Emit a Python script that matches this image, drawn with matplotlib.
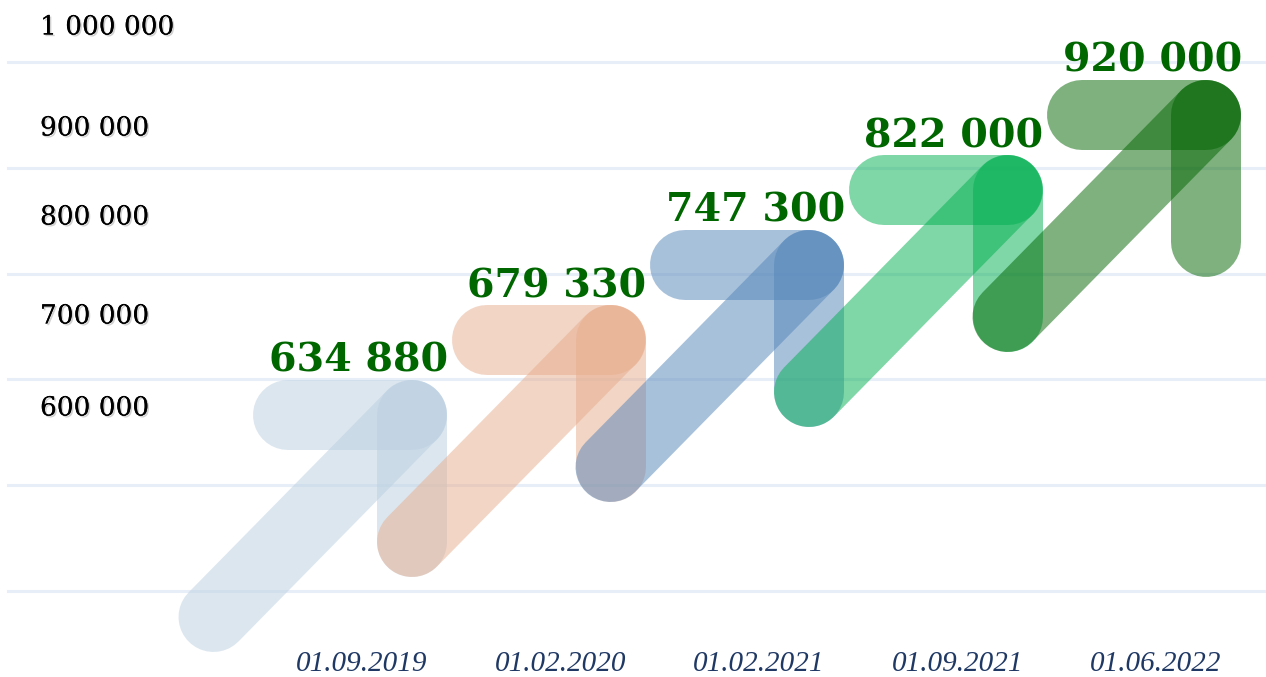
import matplotlib.pyplot as plt
import matplotlib.patheffects as pe

# данные
dates = ['01.09.2019', '01.02.2020', '01.02.2021', '01.09.2021', '01.06.2022']
values = [634880, 679330, 747300, 822000, 920000]
y_labels = ['1 000 000', '900 000', '800 000', '700 000', '600 000']
colors = ['#bbcfe1', '#e7ad8d', '#5385b9', '#00b050', '#006400']

W, H = 1266, 677
fig = plt.figure(figsize=(W / 100, H / 100), dpi=100)
ax = fig.add_axes([0, 0, 1, 1])
ax.set_xlim(0, W)
ax.set_ylim(H, 0)
ax.axis('off')

# линии сетки
for k in range(6):
    gy = 62 + 105.8 * k
    ax.plot([8, W], [gy, gy], color='#e8eef7', lw=2.2, zorder=0)

# подписи слева (в картинке стоят не по сетке)
label_y = [27, 128, 217, 316, 408]
shadow = [pe.withSimplePatchShadow(offset=(1.2, -1.2), shadow_rgbFace='#808080', alpha=0.35), pe.Normal()]
for lab, ly in zip(y_labels, label_y):
    ax.text(40, ly, lab, family='DejaVu Serif', fontsize=19, color='black',
            ha='left', va='center', path_effects=shadow, zorder=1)

# стрелки: начало каждой совпадает с концом вертикали предыдущей
x0, y0 = 412, 415
step_x, step_y = 198.5, 75
rise = 202
lw = 70 * 72 / 100
for i, (v, d, c) in enumerate(zip(values, dates, colors)):
    tx = x0 + step_x * i
    ty = y0 - step_y * i
    kw = dict(color=c, alpha=0.5, lw=lw, solid_capstyle='round', zorder=2 + i)
    ax.plot([tx - step_x, tx], [ty + rise, ty], **kw)
    ax.plot([tx - 124, tx], [ty, ty], **kw)
    ax.plot([tx, tx], [ty, ty + rise - step_y], **kw)
    ax.text(tx + 36, ty - 43, f'{v:,}'.replace(',', ' '), family='DejaVu Serif',
            fontweight='bold', fontsize=28.5, color='#006600', ha='right',
            va='baseline', zorder=20)
    ax.text(tx - 50, 664, d, family='Liberation Serif', style='italic',
            fontsize=21, color='#1f3864', ha='center', va='center', zorder=20)

fig.savefig('out.png', dpi=100)
